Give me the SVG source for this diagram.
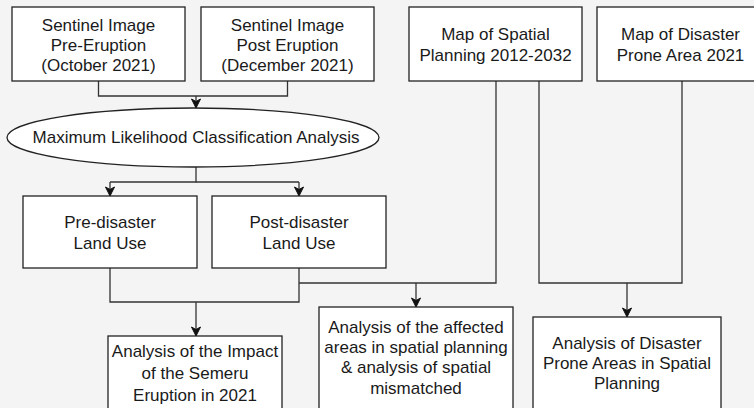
<svg xmlns="http://www.w3.org/2000/svg" width="754" height="408" viewBox="0 0 754 408">
<defs>
<marker id="arr" markerWidth="12" markerHeight="12" refX="10" refY="6" orient="auto" markerUnits="userSpaceOnUse">
<path d="M1,1.5 L10,6 L1,10.5 L3.5,6 z" fill="#111" stroke="#111" stroke-width="1"/>
</marker>
<style>
.box{fill:#fff;stroke:#222;stroke-width:1.3}
.t{font-family:"Liberation Sans",Arial,sans-serif;font-size:17px;fill:#1a1a1a;text-anchor:middle}
.c{fill:none;stroke:#333;stroke-width:1.3}
.a{fill:none;stroke:#333;stroke-width:1.3;marker-end:url(#arr)}
</style>
</defs>
<rect width="754" height="408" fill="#f4f4f4"/>
<g id="connectors">
<path class="c" d="M98.5,81 V96 H287.5 V81"/>
<path class="a" d="M196,96 V108"/>
<path class="c" d="M196,167 V182 H110"/>
<path class="a" d="M110,182 V196"/>
<path class="c" d="M196,182 H299"/>
<path class="a" d="M299,182 V196"/>
<path class="c" d="M110,268 V302 H299 V268"/>
<path class="a" d="M196,302 V336"/>
<path class="c" d="M299,283 H496 V81"/>
<path class="a" d="M416,283 V307"/>
<path class="c" d="M539,81 V283 H682 V81"/>
<path class="a" d="M627,283 V317"/>
</g>
<g id="sentinel-pre">
<rect class="box" x="12" y="7" width="173" height="74"/>
<text class="t" x="98.5" y="31">Sentinel Image</text>
<text class="t" x="98.5" y="51">Pre-Eruption</text>
<text class="t" x="98.5" y="71">(October 2021)</text>
</g>
<g id="sentinel-post">
<rect class="box" x="201" y="7" width="173" height="74"/>
<text class="t" x="287.5" y="31">Sentinel Image</text>
<text class="t" x="287.5" y="51">Post Eruption</text>
<text class="t" x="287.5" y="71">(December 2021)</text>
</g>
<g id="map-spatial">
<rect class="box" x="409" y="7" width="173" height="74"/>
<text class="t" x="495.5" y="40">Map of Spatial</text>
<text class="t" x="495.5" y="61">Planning 2012-2032</text>
</g>
<g id="map-disaster">
<rect class="box" x="597" y="7" width="168" height="74"/>
<text class="t" x="680.5" y="40">Map of Disaster</text>
<text class="t" x="680.5" y="61">Prone Area 2021</text>
</g>
<g id="mlc">
<ellipse class="box" cx="193" cy="137.5" rx="186" ry="29.5"/>
<text class="t" x="196" y="143">Maximum Likelihood Classification Analysis</text>
</g>
<g id="pre-landuse">
<rect class="box" x="23" y="196" width="174" height="72"/>
<text class="t" x="110" y="228">Pre-disaster</text>
<text class="t" x="110" y="249">Land Use</text>
</g>
<g id="post-landuse">
<rect class="box" x="212" y="196" width="174" height="72"/>
<text class="t" x="299" y="228">Post-disaster</text>
<text class="t" x="299" y="249">Land Use</text>
</g>
<g id="impact">
<rect class="box" x="108" y="336" width="174" height="80"/>
<text class="t" x="195" y="357">Analysis of the Impact</text>
<text class="t" x="195" y="379">of the Semeru</text>
<text class="t" x="195" y="401">Eruption in 2021</text>
</g>
<g id="affected">
<rect class="box" x="319" y="307" width="194" height="110"/>
<text class="t" x="416" y="333">Analysis of the affected</text>
<text class="t" x="416" y="353">areas in spatial planning</text>
<text class="t" x="416" y="373">&amp; analysis of spatial</text>
<text class="t" x="416" y="394">mismatched</text>
</g>
<g id="disaster-prone">
<rect class="box" x="533" y="317" width="188" height="100"/>
<text class="t" x="627" y="349">Analysis of Disaster</text>
<text class="t" x="627" y="369">Prone Areas in Spatial</text>
<text class="t" x="627" y="389">Planning</text>
</g>
</svg>
